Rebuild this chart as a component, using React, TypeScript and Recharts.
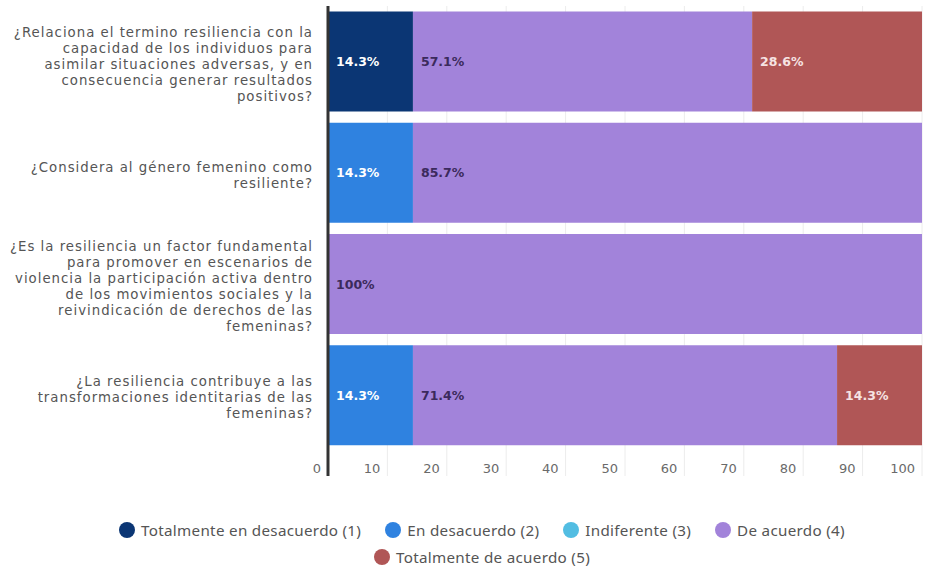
import React from "react";
import { BarChart, Bar, XAxis, YAxis, CartesianGrid, Legend, LabelList } from "recharts";

const categories = [
  "¿Relaciona el termino resiliencia con la\ncapacidad de los individuos para\nasimilar situaciones adversas, y en\nconsecuencia generar resultados\npositivos?",
  "¿Considera al género femenino como\nresiliente?",
  "¿Es la resiliencia un factor fundamental\npara promover en escenarios de\nviolencia la participación activa dentro\nde los movimientos sociales y la\nreivindicación de derechos de las\nfemeninas?",
  "¿La resiliencia contribuye a las\ntransformaciones identitarias de las\nfemeninas?",
];

const seriesNames = [
  "Totalmente en desacuerdo (1)",
  "En desacuerdo (2)",
  "Indiferente (3)",
  "De acuerdo (4)",
  "Totalmente de acuerdo (5)",
];
const totalDesacuerdo = [14.3, 0, 0, 0];
const enDesacuerdo = [0, 14.3, 0, 14.3];
const indiferente = [0, 0, 0, 0];
const deAcuerdo = [57.1, 85.7, 100, 71.4];
const totalAcuerdo = [28.6, 0, 0, 14.3];
const xTicks = [0, 10, 20, 30, 40, 50, 60, 70, 80, 90, 100];

const colors = ["#0b3674", "#2f82e0", "#52bde2", "#a283da", "#b05656"];
const labelColors = ["#ffffff", "#ffffff", "#ffffff", "#3b2a5c", "#f6e3e3"];
const keys = ["s1", "s2", "s3", "s4", "s5"];
const seriesValues = [totalDesacuerdo, enDesacuerdo, indiferente, deAcuerdo, totalAcuerdo];

const data = categories.map((c, i) => {
  const row: any = { name: c };
  keys.forEach((k, j) => (row[k] = seriesValues[j][i]));
  return row;
});

const YTick = (props: any) => {
  const { x, y, payload } = props;
  const lines = String(payload.value).split("\n");
  const lh = 16;
  const start = y + 2 - ((lines.length - 1) * lh) / 2;
  return (
    <text
      x={x - 15}
      y={start}
      textAnchor="end"
      fill="#555"
      fontSize={13.3}
      letterSpacing={1}
      fontFamily="'DejaVu Sans', sans-serif"
      dominantBaseline="central"
    >
      {lines.map((l, i) => (
        <tspan key={i} x={x - 15} y={start + i * lh}>
          {l}
        </tspan>
      ))}
    </text>
  );
};

const XTick = (props: any) => {
  const { x, y, payload } = props;
  const isZero = payload.value === 0;
  return (
    <g>
      <line
        x1={x}
        x2={x}
        y1={y}
        y2={y + 25}
        stroke={isZero ? "#333" : "#ececec"}
        strokeWidth={isZero ? 3 : 1}
      />
      <text
        x={x - 7}
        y={y + 17}
        textAnchor="end"
        dominantBaseline="central"
        fill="#6a6a6a"
        fontSize={13}
        fontFamily="'DejaVu Sans', sans-serif"
      >
        {payload.value}
      </text>
    </g>
  );
};

const LegendContent = () => (
  <div
    style={{
      display: "flex",
      flexWrap: "wrap",
      justifyContent: "center",
      width: 760,
      fontFamily: "'Noto Sans', sans-serif",
      fontSize: 15.2,
      letterSpacing: 0.3,
      color: "#555",
      rowGap: 7,
    }}
  >
    {seriesNames.map((n, i) => (
      <div key={n} style={{ display: "flex", alignItems: "center", marginRight: 12, marginLeft: 12 }}>
        <span
          style={{
            display: "inline-block",
            width: 16,
            height: 16,
            borderRadius: 8,
            background: colors[i],
            marginRight: 6,
          }}
        />
        <span>{n}</span>
      </div>
    ))}
  </div>
);

const fmt = (v: any) => (v && v > 0 ? `${v}%` : "");

export default function App() {
  return (
    <div style={{ position: "absolute", left: 0, top: 0, background: "#fff" }}>
      <BarChart
        width={930}
        height={568}
        data={data}
        layout="vertical"
        margin={{ top: 6, right: 8, bottom: 87, left: 0 }}
        barCategoryGap="5%"
      >
        <CartesianGrid horizontal={false} stroke="#ececec" />
        <XAxis
          type="number"
          domain={[0, 100]}
          ticks={xTicks}
          axisLine={false}
          tickLine={false}
          tickSize={0}
          tickMargin={0}
          height={30}
          tick={<XTick />}
          interval={0}
        />
        <YAxis
          type="category"
          dataKey="name"
          width={328}
          axisLine={{ stroke: "#333", strokeWidth: 3 }}
          tickLine={false}
          tickSize={0}
          tickMargin={0}
          tick={<YTick />}
          interval={0}
        />
        {keys.map((k, i) => (
          <Bar key={k} dataKey={k} name={seriesNames[i]} stackId="a" fill={colors[i]} isAnimationActive={false}>
            <LabelList
              dataKey={k}
              position="insideLeft"
              offset={8}
              formatter={fmt}
              fill={labelColors[i]}
              fontSize={12.5}
              fontWeight={700}
              fontFamily="'DejaVu Sans', sans-serif"
            />
          </Bar>
        ))}
        <Legend
          layout="horizontal"
          verticalAlign="middle"
          align="center"
          content={<LegendContent />}
          wrapperStyle={{ top: 520, left: 102, width: 760 }}
        />
      </BarChart>
    </div>
  );
}
